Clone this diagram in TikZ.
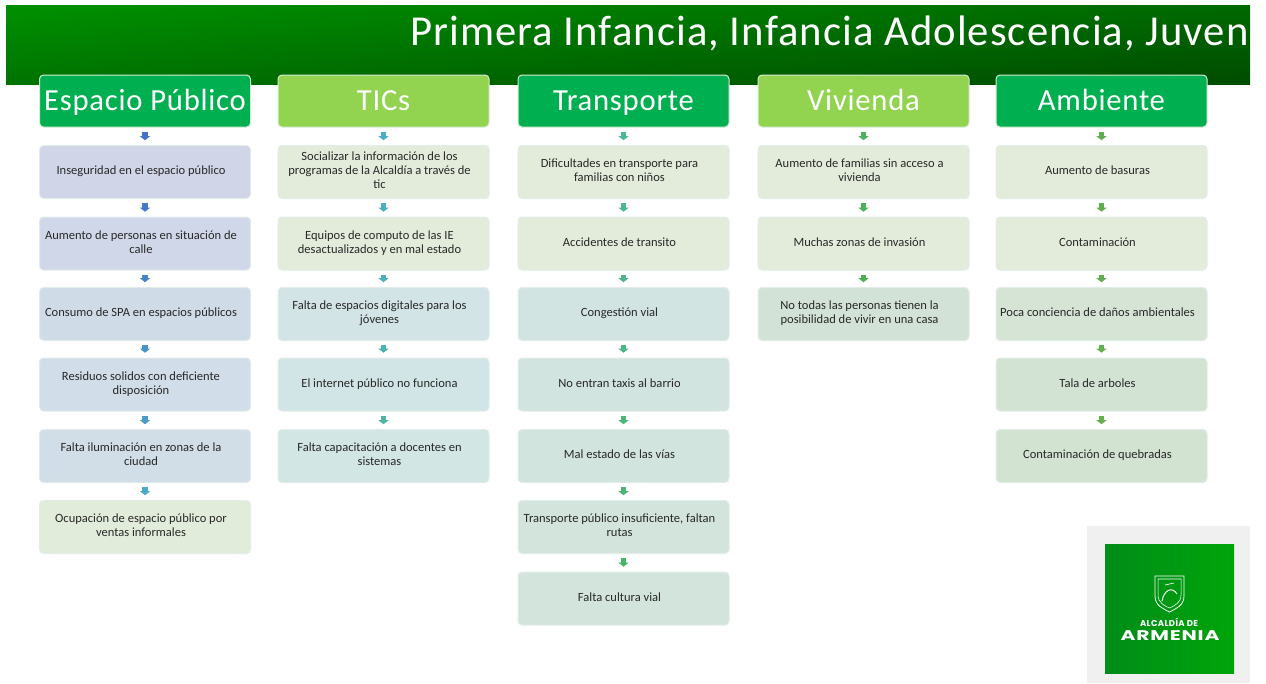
\documentclass[tikz,border=0pt]{standalone}
\usepackage{fontspec}
\usepackage{xcolor}
\usetikzlibrary{arrows.meta}
\setmainfont{Carlito}
\newfontfamily\headfont[LetterSpace=2.5]{Carlito}
\newfontfamily\logofont[LetterSpace=4]{Poppins}

\definecolor{bandtop}{RGB}{0,142,0}
\definecolor{bandbot}{RGB}{0,78,0}
\definecolor{logoleft}{RGB}{0,140,25}
\definecolor{logoright}{RGB}{0,165,10}

\newcommand{\itemtext}[1]{\raisebox{1.5pt}{\begin{tabular}{@{}c@{}}#1\end{tabular}}\hspace*{6pt}}

\tikzset{
  headbox/.style={draw={rgb, 255:red, 214; green, 236; blue, 214 },line width=0.75pt,rounded corners=3pt,minimum width=158.25pt,minimum height=39pt,inner sep=0pt,text={rgb, 255:red, 255; green, 255; blue, 255 },text height=17pt,text depth=2.5pt,font=\headfont\fontsize{23}{26}\selectfont},
  itembox/.style={draw={rgb, 255:red, 226; green, 236; blue, 232 },line width=0.75pt,rounded corners=3pt,minimum width=158.25pt,minimum height=39.75pt,inner sep=0pt,text={rgb, 255:red, 40; green, 40; blue, 40 },font=\fontsize{9.4}{10.5}\selectfont},
  flowarrow/.style={line width=4pt,xshift=-1.5pt,shorten <=3.3pt,shorten >=3.6pt,-{Triangle[length=3pt,width=7.5pt]}}
}

\begin{document}
\begin{tikzpicture}[x=0.75pt,y=0.75pt,yscale=-1,xscale=1]
\useasboundingbox (0,0) rectangle (1266,683);

%Shape: Rectangle [top band]
\shade [top color=bandtop,bottom color=bandbot,shading angle=5] (6,5) -- (1250,5) -- (1250,84.5) -- (6,84.5) -- cycle ;
% Text Node
\node [anchor=west,text=white,inner sep=0pt,font=\headfont\fontsize{32}{36}\selectfont] (title) at (410,33) {Primera Infancia, Infancia Adolescencia, Juven};

%Shape: Rectangle [logo]
\fill [color={rgb, 255:red, 240; green, 240; blue, 240 }] (1087,526) -- (1250,526) -- (1250,683) -- (1087,683) -- cycle ;
\shade [left color=logoleft,right color=logoright] (1105,544) -- (1234,544) -- (1234,673) -- (1105,673) -- cycle ;
%Shape: crest
\draw [white,line width=0.6pt] (1155,576) -- (1184,576) -- (1184,596) .. controls (1184,606) and (1175,609) .. (1169.5,612) .. controls (1164,609) and (1155,606) .. (1155,596) -- cycle ;
\draw [white,line width=0.4pt] (1158,579) -- (1181,579) -- (1181,595) .. controls (1181,603) and (1174,606) .. (1169.5,608) .. controls (1165,606) and (1158,603) .. (1158,595) -- cycle ;
\draw [white,line width=0.7pt] (1162,601) .. controls (1164,590) and (1172,586) .. (1177,594) ;
\draw [white,line width=0.5pt] (1165,585) -- (1174,583) ;
% Text Node
\node [text=white,font=\logofont\bfseries\fontsize{6.4}{8}\selectfont,inner sep=0pt] (alcaldia) at (1169,622) {ALCALDÍA DE};
% Text Node
\node [text=white,font=\logofont\bfseries\fontsize{10.5}{12}\selectfont,inner sep=0pt] (armenia) at (1170,636) {\scalebox{1.45}[1]{ARMENIA}};

%Shape: headers
\node [headbox,fill={rgb, 255:red, 0; green, 176; blue, 80 }] (esp0) at (145,101) {Espacio Público};
\node [headbox,fill={rgb, 255:red, 146; green, 212; blue, 80 }] (tic0) at (383.5,101) {TICs};
\node [headbox,fill={rgb, 255:red, 0; green, 176; blue, 80 }] (tra0) at (623.5,101) {Transporte};
\node [headbox,fill={rgb, 255:red, 146; green, 212; blue, 80 }] (viv0) at (863.5,101) {Vivienda};
\node [headbox,fill={rgb, 255:red, 0; green, 176; blue, 80 }] (amb0) at (1101.5,101) {Ambiente};

%Shape: first column
\node [itembox,fill={rgb, 255:red, 208; green, 213; blue, 232 }] (esp1) at (145,172) {\itemtext{Inseguridad en el espacio público}};
\node [itembox,fill={rgb, 255:red, 208; green, 215; blue, 232 }] (esp2) at (145,243.5) {\itemtext{Aumento de personas en situación de\\calle}};
\node [itembox,fill={rgb, 255:red, 208; green, 219; blue, 232 }] (esp3) at (145,314) {\itemtext{Consumo de SPA en espacios públicos}};
\node [itembox,fill={rgb, 255:red, 209; green, 221; blue, 232 }] (esp4) at (145,384.5) {\itemtext{Residuos solidos con deficiente\\disposición}};
\node [itembox,fill={rgb, 255:red, 209; green, 222; blue, 232 }] (esp5) at (145,456) {\itemtext{Falta iluminación en zonas de la\\ciudad}};
\node [itembox,fill={rgb, 255:red, 226; green, 236; blue, 219 }] (esp6) at (145,527) {\itemtext{Ocupación de espacio público por\\ventas informales}};

%Shape: second column
\node [itembox,fill={rgb, 255:red, 227; green, 236; blue, 219 }] (tic1) at (383.5,172) {\itemtext{Socializar la información de los\\programas de la Alcaldía a través de\\tic}};
\node [itembox,fill={rgb, 255:red, 227; green, 236; blue, 219 }] (tic2) at (383.5,243.5) {\itemtext{Equipos de computo de las IE\\desactualizados y en mal estado}};
\node [itembox,fill={rgb, 255:red, 210; green, 228; blue, 230 }] (tic3) at (383.5,314) {\itemtext{Falta de espacios digitales para los\\jóvenes}};
\node [itembox,fill={rgb, 255:red, 210; green, 229; blue, 230 }] (tic4) at (383.5,384.5) {\itemtext{El internet público no funciona}};
\node [itembox,fill={rgb, 255:red, 210; green, 230; blue, 228 }] (tic5) at (383.5,456) {\itemtext{Falta capacitación a docentes en\\sistemas}};

%Shape: third column
\node [itembox,fill={rgb, 255:red, 227; green, 236; blue, 219 }] (tra1) at (623.5,172) {\itemtext{Dificultades en transporte para\\familias con niños}};
\node [itembox,fill={rgb, 255:red, 227; green, 236; blue, 219 }] (tra2) at (623.5,243.5) {\itemtext{Accidentes de transito}};
\node [itembox,fill={rgb, 255:red, 210; green, 228; blue, 226 }] (tra3) at (623.5,314) {\itemtext{Congestión vial}};
\node [itembox,fill={rgb, 255:red, 210; green, 228; blue, 224 }] (tra4) at (623.5,384.5) {\itemtext{No entran taxis al barrio}};
\node [itembox,fill={rgb, 255:red, 210; green, 228; blue, 222 }] (tra5) at (623.5,456) {\itemtext{Mal estado de las vías}};
\node [itembox,fill={rgb, 255:red, 210; green, 228; blue, 220 }] (tra6) at (623.5,527) {\itemtext{Transporte público insuficiente, faltan\\rutas}};
\node [itembox,fill={rgb, 255:red, 210; green, 228; blue, 220 }] (tra7) at (623.5,598.5) {\itemtext{Falta cultura vial}};

%Shape: fourth column
\node [itembox,fill={rgb, 255:red, 227; green, 236; blue, 219 }] (viv1) at (863.5,172) {\itemtext{Aumento de familias sin acceso a\\vivienda}};
\node [itembox,fill={rgb, 255:red, 227; green, 236; blue, 219 }] (viv2) at (863.5,243.5) {\itemtext{Muchas zonas de invasión}};
\node [itembox,fill={rgb, 255:red, 210; green, 226; blue, 214 }] (viv3) at (863.5,314) {\itemtext{No todas las personas tienen la\\posibilidad de vivir en una casa}};

%Shape: fifth column
\node [itembox,fill={rgb, 255:red, 227; green, 236; blue, 219 }] (amb1) at (1101.5,172) {\itemtext{Aumento de basuras}};
\node [itembox,fill={rgb, 255:red, 227; green, 236; blue, 219 }] (amb2) at (1101.5,243.5) {\itemtext{Contaminación}};
\node [itembox,fill={rgb, 255:red, 213; green, 228; blue, 212 }] (amb3) at (1101.5,314) {\itemtext{Poca conciencia de daños ambientales}};
\node [itembox,fill={rgb, 255:red, 211; green, 227; blue, 211 }] (amb4) at (1101.5,384.5) {\itemtext{Tala de arboles}};
\node [itembox,fill={rgb, 255:red, 210; green, 227; blue, 210 }] (amb5) at (1101.5,456) {\itemtext{Contaminación de quebradas}};

%Straight Lines [first column]
\draw [flowarrow,color={rgb, 255:red, 68; green, 114; blue, 196 }] (esp0) -- (esp1) ;
\draw [flowarrow,color={rgb, 255:red, 70; green, 122; blue, 196 }] (esp1) -- (esp2) ;
\draw [flowarrow,color={rgb, 255:red, 71; green, 134; blue, 196 }] (esp2) -- (esp3) ;
\draw [flowarrow,color={rgb, 255:red, 72; green, 146; blue, 196 }] (esp3) -- (esp4) ;
\draw [flowarrow,color={rgb, 255:red, 73; green, 156; blue, 197 }] (esp4) -- (esp5) ;
\draw [flowarrow,color={rgb, 255:red, 75; green, 168; blue, 198 }] (esp5) -- (esp6) ;

%Straight Lines [second column]
\draw [flowarrow,color={rgb, 255:red, 75; green, 172; blue, 198 }] (tic0) -- (tic1) ;
\draw [flowarrow,color={rgb, 255:red, 75; green, 174; blue, 192 }] (tic1) -- (tic2) ;
\draw [flowarrow,color={rgb, 255:red, 75; green, 176; blue, 184 }] (tic2) -- (tic3) ;
\draw [flowarrow,color={rgb, 255:red, 75; green, 178; blue, 174 }] (tic3) -- (tic4) ;
\draw [flowarrow,color={rgb, 255:red, 75; green, 180; blue, 164 }] (tic4) -- (tic5) ;

%Straight Lines [third column]
\draw [flowarrow,color={rgb, 255:red, 75; green, 182; blue, 156 }] (tra0) -- (tra1) ;
\draw [flowarrow,color={rgb, 255:red, 75; green, 182; blue, 146 }] (tra1) -- (tra2) ;
\draw [flowarrow,color={rgb, 255:red, 75; green, 182; blue, 138 }] (tra2) -- (tra3) ;
\draw [flowarrow,color={rgb, 255:red, 75; green, 182; blue, 130 }] (tra3) -- (tra4) ;
\draw [flowarrow,color={rgb, 255:red, 75; green, 182; blue, 122 }] (tra4) -- (tra5) ;
\draw [flowarrow,color={rgb, 255:red, 75; green, 180; blue, 114 }] (tra5) -- (tra6) ;
\draw [flowarrow,color={rgb, 255:red, 75; green, 178; blue, 106 }] (tra6) -- (tra7) ;

%Straight Lines [fourth column]
\draw [flowarrow,color={rgb, 255:red, 76; green, 176; blue, 92 }] (viv0) -- (viv1) ;
\draw [flowarrow,color={rgb, 255:red, 76; green, 176; blue, 88 }] (viv1) -- (viv2) ;
\draw [flowarrow,color={rgb, 255:red, 76; green, 175; blue, 84 }] (viv2) -- (viv3) ;

%Straight Lines [fifth column]
\draw [flowarrow,color={rgb, 255:red, 90; green, 176; blue, 76 }] (amb0) -- (amb1) ;
\draw [flowarrow,color={rgb, 255:red, 92; green, 176; blue, 76 }] (amb1) -- (amb2) ;
\draw [flowarrow,color={rgb, 255:red, 94; green, 176; blue, 76 }] (amb2) -- (amb3) ;
\draw [flowarrow,color={rgb, 255:red, 98; green, 176; blue, 76 }] (amb3) -- (amb4) ;
\draw [flowarrow,color={rgb, 255:red, 102; green, 176; blue, 76 }] (amb4) -- (amb5) ;

\end{tikzpicture}
\end{document}
